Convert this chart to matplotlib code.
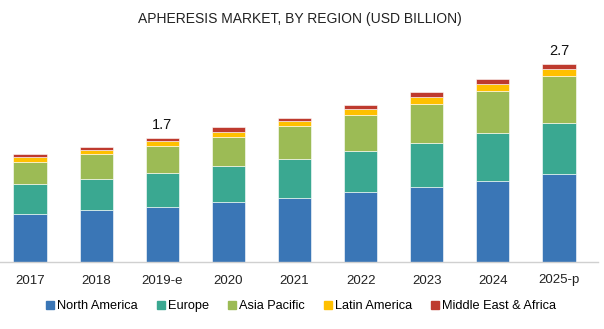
import matplotlib
matplotlib.use("Agg")
import matplotlib.pyplot as plt
from matplotlib.lines import Line2D
from matplotlib import font_manager
import numpy as np

years = ["2017", "2018", "2019-e", "2020", "2021", "2022", "2023", "2024", "2025-p"]
north_america = [0.66, 0.71, 0.75, 0.82, 0.88, 0.95, 1.03, 1.10, 1.20]
europe = [0.41, 0.42, 0.47, 0.49, 0.53, 0.56, 0.60, 0.66, 0.70]
asia_pacific = [0.30, 0.34, 0.36, 0.40, 0.44, 0.49, 0.53, 0.58, 0.64]
latin_america = [0.06, 0.055, 0.068, 0.068, 0.08, 0.082, 0.095, 0.095, 0.10]
mea = [0.041, 0.05, 0.041, 0.06, 0.037, 0.059, 0.059, 0.064, 0.068]
series_names = ["North America", "Europe", "Asia Pacific", "Latin America", "Middle East & Africa"]
colors = ["#3A76B6", "#3AA891", "#9CBB55", "#FFC000", "#BE3A2E"]
annotations = {2: "1.7", 8: "2.7"}

plt.rcParams['font.family'] = ['Liberation Sans', 'DejaVu Sans']

installed = {f.name for f in font_manager.fontManager.ttflist}
title_family = None
for cand in ['Liberation Sans Narrow', 'DejaVu Sans Condensed']:
    if cand in installed:
        title_family = cand
        break

fig = plt.figure(figsize=(6.04, 3.29), dpi=100)
ax = fig.add_axes([0.0, 67/329, 598/604, 222/329])

x = np.arange(len(years))
data = [north_america, europe, asia_pacific, latin_america, mea]
bottom = np.zeros(len(years))
for vals, c, name in zip(data, colors, series_names):
    vals = np.array(vals)
    ax.bar(x, vals, width=0.5, bottom=bottom, color=c, edgecolor="white", linewidth=0.4, label=name)
    bottom += vals

for i, txt in annotations.items():
    ax.text(x[i], bottom[i] + 0.08, txt, ha="center", va="bottom", fontsize=10.5, color="#111111")

ax.set_xlim(-0.454, 8.59)
ax.set_ylim(0, 3.03)
ax.set_yticks([])
ax.set_xticks(x)
ax.set_xticklabels(years, fontsize=9.5, color="#222222")
ax.tick_params(axis="x", length=0, pad=9)
for s in ["top", "right", "left"]:
    ax.spines[s].set_visible(False)
ax.spines["bottom"].set_color("#D0D0D0")
ax.spines["bottom"].set_linewidth(1.0)

if title_family:
    fig.text(0.497, 1 - 19/329, "APHERESIS MARKET, BY REGION (USD BILLION)", ha="center", va="center",
             fontsize=11, family=[title_family, 'DejaVu Sans'], color="#222222")
else:
    fig.text(0.497, 1 - 19/329, "APHERESIS MARKET, BY REGION (USD BILLION)", ha="center", va="center",
             fontsize=10, color="#222222")

handles = [Line2D([0], [0], marker="s", linestyle="none", markersize=5.5, markerfacecolor=c,
                  markeredgecolor=c) for c in colors]
fig.legend(handles, series_names, loc="center", bbox_to_anchor=(0.499, 1 - 306/329), ncol=5,
           frameon=False, fontsize=9.2, handlelength=0.6, handletextpad=0.25, columnspacing=1.5)

fig.savefig("out.png", dpi=100)
